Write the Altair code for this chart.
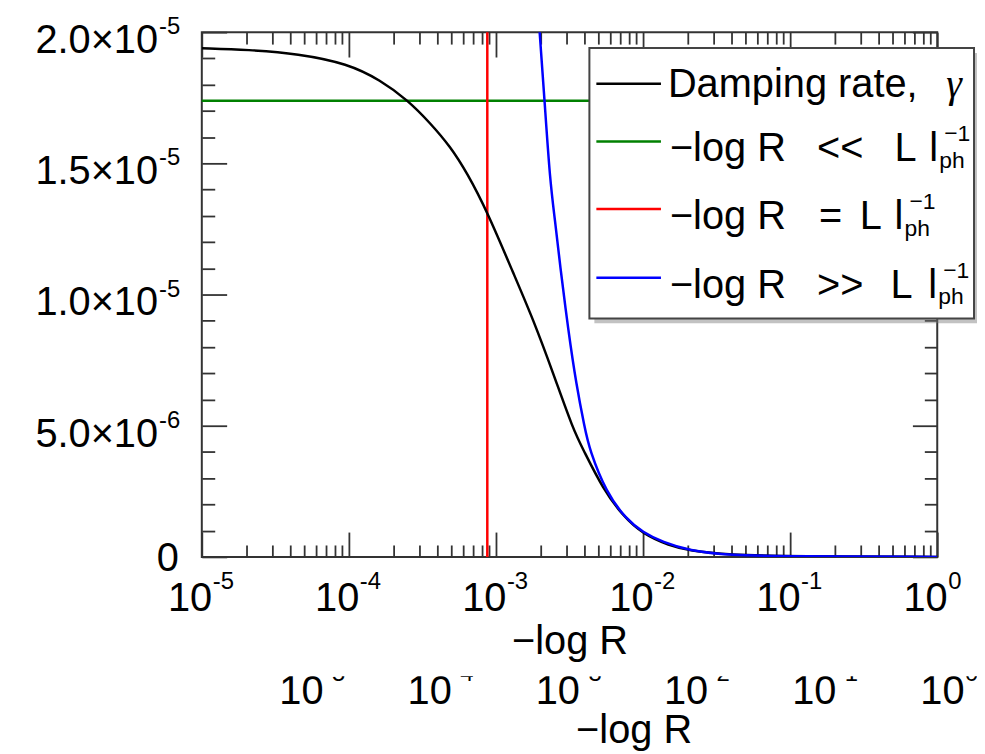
import altair as alt
import pandas as pd

# ---------------- data ----------------
damping_x = [1e-5, 2.08e-5, 4.52e-5, 9.84e-5, 1.64e-4, 2.51e-4, 3.58e-4, 4.89e-4, 6.37e-4,
             8.69e-4, 1.32e-3, 1.80e-3, 2.45e-3, 3.35e-3, 3.92e-3, 5.35e-3, 7.30e-3, 9.96e-3,
             1.51e-2, 2.06e-2, 3.81e-2, 0.108, 1.0]
damping_y = [19.39e-6, 19.33e-6, 19.18e-6, 18.80e-6, 18.17e-6, 17.41e-6, 16.53e-6, 15.64e-6, 14.63e-6,
             13.18e-6, 10.78e-6, 9.02e-6, 7.00e-6, 4.85e-6, 4.09e-6, 2.58e-6, 1.56e-6, 0.87e-6,
             0.43e-6, 0.24e-6, 0.076e-6, 0.02e-6, 0.0]

strong_x = [1.92e-3, 1.98e-3, 2.14e-3, 2.33e-3, 2.52e-3, 2.72e-3, 3.10e-3, 3.52e-3, 4.01e-3,
            4.32e-3, 5.62e-3, 7.68e-3, 9.96e-3, 1.36e-2, 2.06e-2, 3.81e-2, 0.108, 1.0]
strong_y = [21.1e-6, 20.0e-6, 17.39e-6, 14.32e-6, 12.84e-6, 11.16e-6, 8.64e-6, 6.55e-6, 4.92e-6,
            4.09e-6, 2.45e-6, 1.44e-6, 0.94e-6, 0.56e-6, 0.24e-6, 0.06e-6, 0.02e-6, 0.0]

weak_level = 1.739e-5          # green horizontal line
crossover_position = 8.73e-4   # red vertical line

x_decades = [1e-5, 1e-4, 1e-3, 1e-2, 1e-1, 1.0]
x_exponents = ["-5", "-4", "-3", "-2", "-1", "0"]
y_major = [0.0, 5e-6, 1e-5, 1.5e-5, 2e-5]
y_mantissa = ["0", "5.0", "1.0", "1.5", "2.0"]
y_exponents = ["", "-6", "-5", "-5", "-5"]
axis_title = "\u2212log R"

legend_main = [["Damping rate,"],
               ["\u2212log R", "<<", "L", "l"],
               ["\u2212log R", "=", "L", "l"],
               ["\u2212log R", ">>", "L", "l"]]
legend_greek = ["\u03b3", "", "", ""]
legend_sub = ["", "ph", "ph", "ph"]
legend_sup = ["", "\u22121", "\u22121", "\u22121"]
legend_colors = ["#000000", "#008000", "#ff0000", "#0000ff"]

# ---------------- layout / style ----------------
W, H = 740, 528
FONT = "Liberation Sans"
FRAME = "#333333"
FS = 40
SFS = 24

xs = alt.Scale(type="log", domain=[1e-5, 1.0], nice=False)
ys = alt.Scale(domain=[0, 2e-5], nice=False, zero=False)

x_ticks_all = [m * 10.0 ** e for e in range(-5, 0) for m in range(1, 10)] + [1.0]
y_ticks_all = [i * 1e-6 for i in range(0, 21)]
x_ts = {"condition": {"test": "abs(log(datum.value)/LN10 - round(log(datum.value)/LN10)) < 1e-6",
                      "value": 25}, "value": 12}
y_ts = {"condition": {"test": "abs(datum.value/5e-6 - round(datum.value/5e-6)) < 1e-6",
                      "value": 25}, "value": 13}

label_style = dict(labelFont=FONT, labelFontSize=FS, labelColor="black", labelFlush=False,
                   labelOverlap=False, labelBound=False, grid=False, domain=False)
title_style = dict(titleFont=FONT, titleFontSize=FS, titleFontWeight="normal", titleColor="black",
                   titleBaseline="alphabetic")

black_df = pd.DataFrame({"x": damping_x, "y": damping_y})
blue_df = pd.DataFrame({"x": strong_x, "y": strong_y})

black = alt.Chart(black_df).mark_line(color="black", strokeWidth=2.5, interpolate="basis", clip=True).encode(
    x=alt.X("x:Q", scale=xs, axis=alt.Axis(
        orient="bottom", values=x_decades, labelExpr="'10'", ticks=False, tickSize=0,
        labelPadding=54, labelBaseline="alphabetic", labelAlign="right", labelOffset=10,
        title=axis_title, titleY=97, **label_style, **title_style)),
    y=alt.Y("y:Q", scale=ys, axis=None),
)

blue = alt.Chart(blue_df).mark_line(color="#0000ff", strokeWidth=2.5, interpolate="basis", clip=True).encode(
    x=alt.X("x:Q", scale=xs, axis=None),
    y=alt.Y("y:Q", scale=ys, axis=None),
)

green = alt.Chart(pd.DataFrame({"y": [weak_level]})).mark_rule(color="#008000", strokeWidth=2.5).encode(
    y=alt.Y("y:Q", scale=ys, axis=None))
red = alt.Chart(pd.DataFrame({"x": [crossover_position]})).mark_rule(color="#ff0000", strokeWidth=2.5).encode(
    x=alt.X("x:Q", scale=xs, axis=None))

tick_style = dict(labels=False, domain=False, grid=False, title=None, ticks=True,
                  tickColor=FRAME, tickWidth=1.8)
ticks_a = alt.Chart(black_df).mark_point(opacity=0).encode(
    x=alt.X("x:Q", scale=xs, axis=alt.Axis(orient="top", offset=-H, values=x_ticks_all, tickSize=x_ts, **tick_style)),
    y=alt.Y("y:Q", scale=ys, axis=alt.Axis(orient="right", offset=-W, values=y_ticks_all, tickSize=y_ts, **tick_style)),
)
ticks_b = alt.Chart(black_df).mark_point(opacity=0).encode(
    x=alt.X("x:Q", scale=xs, axis=alt.Axis(orient="bottom", offset=-H, values=x_ticks_all, tickSize=x_ts, **tick_style)),
    y=alt.Y("y:Q", scale=ys, axis=alt.Axis(orient="left", offset=-W, values=y_ticks_all, tickSize=y_ts, **tick_style)),
)

# superscript exponents of the x labels
exp_df = pd.DataFrame({"x": x_decades, "e": x_exponents})
x_exp = alt.Chart(exp_df).mark_text(align="left", baseline="alphabetic", dx=11, font=FONT,
                                    fontSize=SFS, color="black").encode(
    x=alt.X("x:Q", scale=xs, axis=None), y=alt.value(H + 32), text="e:N")

# y tick labels (mantissa x 10 with superscript exponent)
ylab_df = pd.DataFrame({"y": y_major[1:], "m": [m + "\u00d710" for m in y_mantissa[1:]],
                        "e": y_exponents[1:]})
y_lab = alt.Chart(ylab_df).mark_text(align="right", baseline="alphabetic", dy=21, font=FONT,
                                     fontSize=FS, color="black").encode(
    x=alt.value(-44), y=alt.Y("y:Q", scale=ys, axis=None), text="m:N")
y_zero = alt.Chart(pd.DataFrame({"y": y_major[:1], "m": y_mantissa[:1]})).mark_text(
    align="right", baseline="alphabetic", dy=14, font=FONT, fontSize=FS, color="black").encode(
    x=alt.value(-23), y=alt.Y("y:Q", scale=ys, axis=None), text="m:N")
y_exp = alt.Chart(ylab_df).mark_text(align="left", baseline="alphabetic", dy=2, font=FONT,
                                     fontSize=SFS, color="black").encode(
    x=alt.value(-43), y=alt.Y("y:Q", scale=ys, axis=None), text="e:N")

# duplicated (partly hidden) lower axis of the original figure
dup_scale = alt.Scale(type="log", domain=[1e-5, 1.0], range=[112, 757], nice=False)
dup = alt.Chart(exp_df).mark_point(opacity=0).encode(
    x=alt.X("x:Q", scale=dup_scale, axis=alt.Axis(
        orient="bottom", values=x_decades, labelExpr="'10'", ticks=False, tickSize=0,
        labelPadding=147, labelBaseline="alphabetic", labelAlign="right", labelOffset=10,
        title=axis_title, titleY=187, **label_style, **title_style)),
    y=alt.value(0))
dup_exp = alt.Chart(exp_df).mark_text(align="left", baseline="alphabetic", dx=11, font=FONT,
                                      fontSize=SFS, color="black").encode(
    x=alt.X("x:Q", scale=dup_scale, axis=None), y=alt.value(H + 125), text="e:N")
# the original figure hides the upper part of these exponents
one = pd.DataFrame({"a": [0]})
dup_mask = alt.Chart(one).mark_rect(fill="white").encode(
    x=alt.value(80), x2=alt.value(785), y=alt.value(H + 107), y2=alt.value(H + 120))

# ---------------- legend (hand-built for sub/superscripts) ----------------
box = dict(x0=390, x1=777, y0=16, y1=288)
shadow = alt.Chart(one).mark_rect(fill="#777777", opacity=0.45).encode(
    x=alt.value(box["x0"] + 5), x2=alt.value(box["x1"] + 5),
    y=alt.value(box["y0"] + 5), y2=alt.value(box["y1"] + 5))
frame = alt.Chart(one).mark_rect(fill="white", stroke="#444444", strokeWidth=2).encode(
    x=alt.value(box["x0"]), x2=alt.value(box["x1"]),
    y=alt.value(box["y0"]), y2=alt.value(box["y1"]))

swatch_y = [52, 110, 178, 247]
baseline_y = [65, 130, 198, 267]
main_x = [[469], [471, 619, 697, 732], [471, 621, 662, 697], [471, 619, 693, 731]]
greek_x = [749, 0, 0, 0]
sub_x = [0, 742, 707, 741]
sup_x = [0, 747, 712, 746]

sw_df = pd.DataFrame({"sy": swatch_y, "color": legend_colors})
swatches = alt.Chart(sw_df).mark_rule(strokeWidth=2.5).encode(
    x=alt.value(397), x2=alt.value(462),
    y=alt.Y("sy:Q", scale=None), color=alt.Color("color:N", scale=None, legend=None))

main_rec, greek_rec, small_rec = [], [], []
for i in range(4):
    for t, px in zip(legend_main[i], main_x[i]):
        main_rec.append({"t": t, "px": px, "py": baseline_y[i]})
    if legend_greek[i]:
        greek_rec.append({"t": legend_greek[i], "px": greek_x[i], "py": baseline_y[i]})
    if legend_sub[i]:
        small_rec.append({"t": legend_sub[i], "px": sub_x[i], "py": baseline_y[i] + 7})
    if legend_sup[i]:
        small_rec.append({"t": legend_sup[i], "px": sup_x[i], "py": baseline_y[i] - 20})

def legend_text(records, **kw):
    return alt.Chart(pd.DataFrame(records)).mark_text(align="left", baseline="alphabetic",
                                                       color="black", **kw).encode(
        x=alt.X("px:Q", scale=None), y=alt.Y("py:Q", scale=None), text="t:N")

lt_main = legend_text(main_rec, font=FONT, fontSize=FS)
lt_greek = legend_text(greek_rec, font="Liberation Serif", fontSize=FS, fontStyle="italic")
lt_small = legend_text(small_rec, font=FONT, fontSize=23)

chart = alt.layer(
    ticks_a, ticks_b, green, red, black, blue, x_exp, y_lab, y_zero, y_exp, dup, dup_exp, dup_mask,
    shadow, frame, swatches, lt_main, lt_greek, lt_small,
).resolve_scale(x="independent", y="independent").resolve_axis(
    x="independent", y="independent"
).properties(
    width=W, height=H,
    autosize=alt.AutoSizeParams(type="none"),
    padding={"left": 195, "top": 22, "right": 40, "bottom": 196},
).configure_view(stroke=FRAME, strokeWidth=2)

chart.save("out.html", embed_options={"renderer": "svg", "actions": False})
